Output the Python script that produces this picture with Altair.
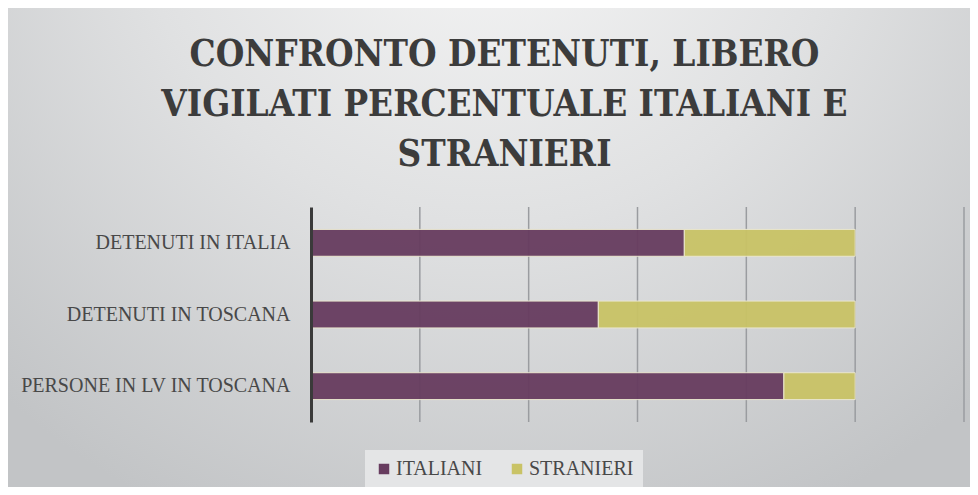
import altair as alt
import pandas as pd

categories = ["DETENUTI IN ITALIA", "DETENUTI IN TOSCANA", "PERSONE IN LV IN TOSCANA"]
italiani = [68.6, 52.8, 86.9]
stranieri = [31.4, 47.2, 13.1]
series = ["ITALIANI", "STRANIERI"]
colors = ["#673c5f", "#c9c366"]
grid_values = [20, 40, 60, 80, 100, 120]

rows = []
for i, c in enumerate(categories):
    rows.append({"cat": c, "serie": "ITALIANI", "val": italiani[i], "ord": 0})
    rows.append({"cat": c, "serie": "STRANIERI", "val": stranieri[i], "ord": 1})
df = pd.DataFrame(rows)

W, H = 653, 215
PL, PT, PR, PB = 303, 199, 6, 65

bg = alt.Chart(pd.DataFrame({"z": [0]})).mark_rect(
    fill=alt.RadialGradient(
        gradient="radial",
        stops=[alt.GradientStop(color="#f8f8f8", offset=0),
               alt.GradientStop(color="#e0e1e2", offset=0.5),
               alt.GradientStop(color="#c2c4c6", offset=1)],
        x1=0.5, y1=0.1, r1=0, x2=0.5, y2=0.1, r2=0.75),
    clip=False,
).encode(x=alt.value(-PL), x2=alt.value(W + PR), y=alt.value(-PT), y2=alt.value(H + PB))

grid = alt.Chart(pd.DataFrame({"g": grid_values})).mark_rule(
    color="#9a9ca0", strokeWidth=1.5
).encode(x=alt.X("g:Q", scale=alt.Scale(domain=[0, 120])))

bars = alt.Chart(df).mark_bar(stroke="#ece8cf", strokeWidth=1, opacity=0.95).encode(
    x=alt.X("val:Q", stack="zero", scale=alt.Scale(domain=[0, 120], nice=False),
            axis=alt.Axis(title=None, labels=False, ticks=False, domain=False, grid=False)),
    y=alt.Y("cat:N", sort=categories,
            scale=alt.Scale(paddingInner=0.625, paddingOuter=0.3125),
            axis=alt.Axis(title=None, ticks=False, domain=True, domainColor="#3a3a3a",
                          domainWidth=3, labelPadding=21, labelFont="Liberation Serif",
                          labelFontSize=20, labelColor="#484848", zindex=1, grid=False,
                          labelLimit=400)),
    color=alt.Color("serie:N", scale=alt.Scale(domain=series, range=colors),
                    legend=alt.Legend(title=None, orient="none", legendX=54, legendY=243,
                                      direction="horizontal", symbolType="square",
                                      symbolSize=110, symbolStrokeWidth=0,
                                      labelFont="Liberation Serif", labelFontSize=20,
                                      labelColor="#484848", columnPadding=24,
                                      labelOffset=2,
                                      fillColor="#e4e5e6", padding=9,
                                      symbolOpacity=1)),
    order=alt.Order("ord:Q"),
)

chart = alt.layer(bg, grid, bars).properties(
    width=W, height=H,
    title=alt.TitleParams(
        text=["CONFRONTO DETENUTI, LIBERO", "VIGILATI PERCENTUALE ITALIANI E", "STRANIERI"],
        font="DejaVu Serif Condensed, Liberation Serif", fontSize=36.5, fontWeight="bold",
        color="#3c3c3c", lineHeight=50, anchor="middle", frame="group", dx=-133,
        offset=0, dy=165,
    ),
    padding={"left": PL, "top": PT, "right": PR, "bottom": PB},
    autosize=alt.AutoSizeParams(type="none"),
).configure_view(stroke=None).configure(background="#ffffff")

chart.save("out.html", embed_options={"renderer": "svg", "actions": False})
